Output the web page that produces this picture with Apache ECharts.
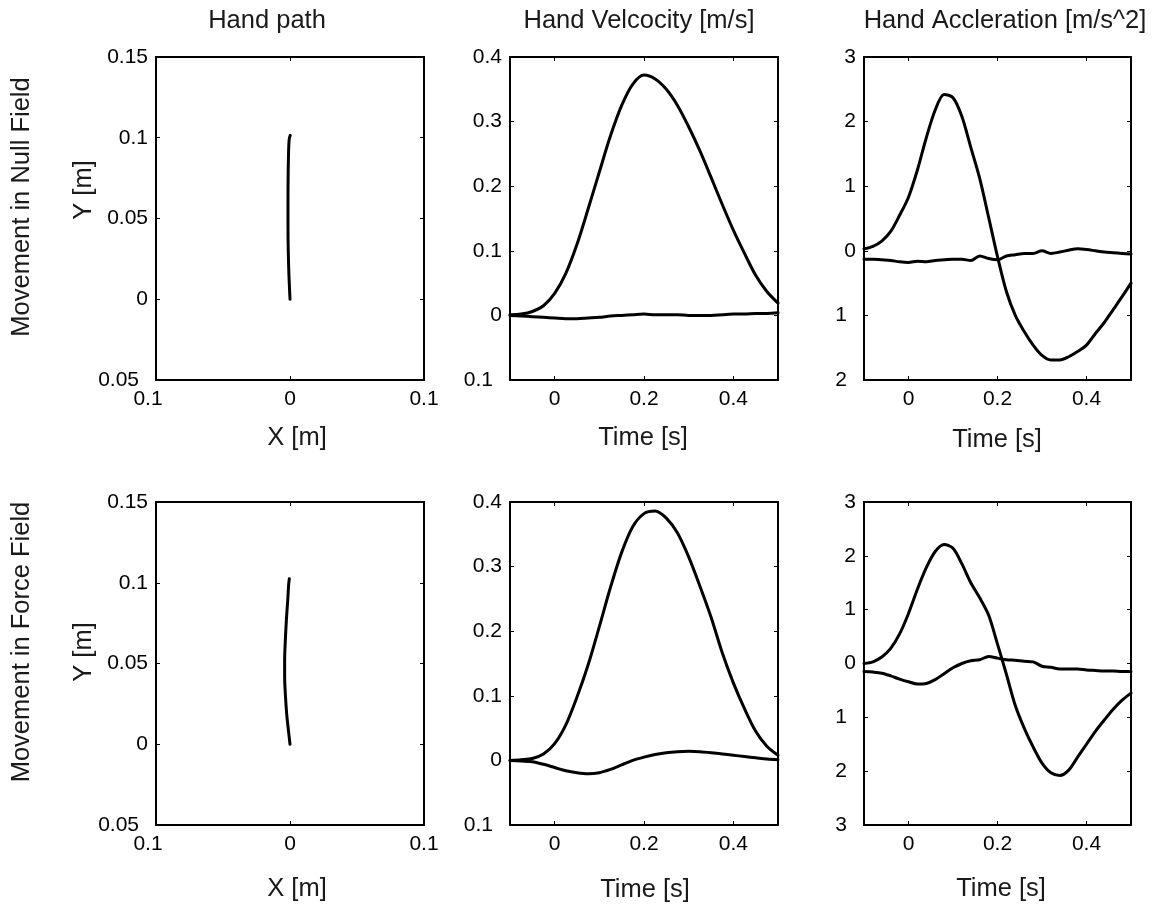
<!DOCTYPE html>
<html>
<head>
<meta charset="utf-8">
<script src="https://cdn.jsdelivr.net/npm/echarts@6/dist/echarts.min.js"></script>
<style>
  html, body { margin: 0; padding: 0; background: #fff; }
  #chart { width: 1166px; height: 906px; }
</style>
</head>
<body>
<div id="chart"></div>
<script>
// ---- Text ----
const columnTitles = ['Hand path', 'Hand Velcocity [m/s]', 'Hand Accleration [m/s^2]'];
const rowTitles = ['Movement in Null Field', 'Movement in Force Field'];
const pathXName = 'X [m]';
const pathYName = 'Y [m]';
const timeName = 'Time [s]';

// ---- Tick values ----
const pathXTicks = [-0.1, 0, 0.1];
const pathYTicks = [-0.05, 0, 0.05, 0.1, 0.15];
const timeRange = [-0.1, 0.5];
const timeTicks = [0, 0.2, 0.4];
const velTicks = [-0.1, 0, 0.1, 0.2, 0.3, 0.4];
const accNullTicks = [-2, -1, 0, 1, 2, 3];
const accForceTicks = [-3, -2, -1, 0, 1, 2, 3];

// ---- Hand paths (x, y in metres) ----
const nullPathX = [0, -0.0008, -0.0013, -0.0015, -0.0015, -0.0014, -0.0011, -0.0006, 0.0002];
const nullPathY = [0, 0.015, 0.03, 0.045, 0.06, 0.075, 0.09, 0.099, 0.1015];
const forcePathX = [0, -0.0015, -0.0025, -0.0035, -0.004, -0.004, -0.0035, -0.0027, -0.0017, -0.001, -0.0005];
const forcePathY = [0, 0.011, 0.019, 0.0315, 0.042, 0.052, 0.064, 0.077, 0.089, 0.099, 0.1025];

// ---- Hand velocity [m/s] ----
const velTime = [-0.1, -0.075, -0.05, -0.025, 0, 0.025, 0.05, 0.075, 0.1, 0.125, 0.15, 0.175, 0.2,
  0.225, 0.25, 0.275, 0.3, 0.325, 0.35, 0.375, 0.4, 0.425, 0.45, 0.475, 0.5];
const nullVelY = [0.001, 0.002, 0.006, 0.015, 0.034, 0.065, 0.11, 0.165, 0.222, 0.278, 0.325, 0.358, 0.372,
  0.366, 0.35, 0.325, 0.292, 0.255, 0.214, 0.172, 0.132, 0.096, 0.062, 0.037, 0.019];
const nullVelX = [0, -0.001, -0.002, -0.003, -0.004, -0.005, -0.005, -0.004, -0.003, -0.001, 0, 0.001, 0.002,
  0.001, 0.001, 0.001, 0, 0, 0, 0.001, 0.002, 0.002, 0.003, 0.003, 0.004];
const forceVelY = [0, 0.001, 0.003, 0.01, 0.026, 0.055, 0.098, 0.148, 0.207, 0.268, 0.322, 0.362, 0.382,
  0.386, 0.375, 0.352, 0.315, 0.27, 0.222, 0.167, 0.12, 0.08, 0.045, 0.022, 0.008];
const forceVelX = [0, -0.001, -0.002, -0.006, -0.011, -0.016, -0.019, -0.0205, -0.019, -0.014, -0.007, 0, 0.005,
  0.009, 0.012, 0.0135, 0.014, 0.0135, 0.012, 0.01, 0.008, 0.006, 0.004, 0.002, 0.001];

// ---- Hand acceleration [m/s^2] ----
const accTime = [-0.1, -0.08, -0.06, -0.04, -0.02, 0, 0.02, 0.04, 0.06, 0.08, 0.1, 0.12, 0.14, 0.16, 0.18, 0.2,
  0.22, 0.24, 0.26, 0.28, 0.3, 0.32, 0.34, 0.36, 0.38, 0.4, 0.42, 0.44, 0.46, 0.48, 0.5];
const nullAccY = [0.03, 0.07, 0.15, 0.3, 0.55, 0.83, 1.25, 1.75, 2.18, 2.42, 2.37, 2.08, 1.6, 1.12, 0.52, -0.09,
  -0.63, -1.0, -1.25, -1.46, -1.62, -1.69, -1.69, -1.64, -1.56, -1.46, -1.28, -1.11, -0.91, -0.71, -0.5];
const nullAccX = [-0.13, -0.13, -0.14, -0.15, -0.17, -0.18, -0.16, -0.17, -0.15, -0.14, -0.13, -0.13, -0.15, -0.08, -0.12, -0.14,
  -0.08, -0.06, -0.04, -0.04, 0.0, -0.04, -0.02, 0.01, 0.03, 0.02, 0.0, -0.02, -0.03, -0.04, -0.05];
const forceAccY = [0.0, 0.03, 0.12, 0.28, 0.55, 0.93, 1.38, 1.78, 2.08, 2.21, 2.14, 1.85, 1.5, 1.22, 0.9, 0.36,
  -0.2, -0.78, -1.2, -1.55, -1.85, -2.03, -2.08, -1.98, -1.74, -1.5, -1.26, -1.05, -0.85, -0.68, -0.55];
const forceAccX = [-0.15, -0.16, -0.18, -0.23, -0.29, -0.34, -0.38, -0.37, -0.3, -0.19, -0.08, 0.0, 0.05, 0.07, 0.13, 0.1,
  0.07, 0.06, 0.04, 0.03, -0.05, -0.07, -0.1, -0.1, -0.1, -0.12, -0.13, -0.14, -0.14, -0.15, -0.15];

// ---- Layout ----
const FONT = "'Liberation Sans', Arial, Helvetica, sans-serif";
const TICK_FONT = 21;
const TEXT_FONT = 25.5;
const colLeft = [156, 510, 864];
const colWidth = [268, 268, 267];
const rowTop = [57, 502];
const rowHeight = 323;

const zip = (xs, ys) => xs.map((x, i) => [x, ys[i]]);

// Tick labels are printed as magnitudes; negative ones keep the width of the dropped sign.
function tickText(v) {
  const s = String(parseFloat(Math.abs(v).toFixed(4)));
  return v < -1e-9 ? '{neg|' + s + '}' : s;
}

function axisPair(dim, gridIndex, min, max, ticks, negPad) {
  const labelRich = {
    neg: { fontSize: TICK_FONT, fontFamily: FONT, color: '#000', padding: [0, negPad, 0, 0] }
  };
  const common = {
    type: 'value', gridIndex, min, max, scale: true,
    splitLine: { show: false },
    axisLine: { show: true, onZero: false, lineStyle: { color: '#000', width: 2 } },
    axisTick: { show: true, inside: true, length: 4, lineStyle: { color: '#000', width: 1 }, customValues: ticks }
  };
  const main = Object.assign({}, common, {
    position: dim === 'x' ? 'bottom' : 'left',
    axisLabel: {
      show: true, customValues: ticks, formatter: tickText, rich: labelRich,
      fontSize: TICK_FONT, fontFamily: FONT, color: '#000',
      margin: dim === 'x' ? 9 : 8
    }
  });
  const mirror = Object.assign({}, common, {
    position: dim === 'x' ? 'top' : 'right',
    axisLabel: { show: false }
  });
  return [main, mirror];
}

const panels = [
  { row: 0, col: 0, x: [-0.1, 0.1, pathXTicks], y: [-0.05, 0.15, pathYTicks], lines: [zip(nullPathX, nullPathY)] },
  { row: 0, col: 1, x: [timeRange[0], timeRange[1], timeTicks], y: [-0.1, 0.4, velTicks], lines: [zip(velTime, nullVelY), zip(velTime, nullVelX)] },
  { row: 0, col: 2, x: [timeRange[0], timeRange[1], timeTicks], y: [-2, 3, accNullTicks], lines: [zip(accTime, nullAccY), zip(accTime, nullAccX)] },
  { row: 1, col: 0, x: [-0.1, 0.1, pathXTicks], y: [-0.05, 0.15, pathYTicks], lines: [zip(forcePathX, forcePathY)] },
  { row: 1, col: 1, x: [timeRange[0], timeRange[1], timeTicks], y: [-0.1, 0.4, velTicks], lines: [zip(velTime, forceVelY), zip(velTime, forceVelX)] },
  { row: 1, col: 2, x: [timeRange[0], timeRange[1], timeTicks], y: [-3, 3, accForceTicks], lines: [zip(accTime, forceAccY), zip(accTime, forceAccX)] }
];

const grid = [], xAxis = [], yAxis = [], series = [];
panels.forEach((p, g) => {
  grid.push({ left: colLeft[p.col], top: rowTop[p.row], width: colWidth[p.col], height: rowHeight, containLabel: false });
  const xs = axisPair('x', g, p.x[0], p.x[1], p.x[2], 16);
  const ys = axisPair('y', g, p.y[0], p.y[1], p.y[2], 9);
  const xi = xAxis.length, yi = yAxis.length;
  xAxis.push(xs[0], xs[1]);
  yAxis.push(ys[0], ys[1]);
  p.lines.forEach(d => {
    series.push({
      type: 'line', xAxisIndex: xi, yAxisIndex: yi, data: d,
      showSymbol: false, symbol: 'none', smooth: 0.3, clip: true, silent: true,
      lineStyle: { color: '#000', width: 3, cap: 'round', join: 'round' }
    });
  });
});

// Titles, row labels and axis names
function label(text, x, y, rotate) {
  return {
    type: 'text', x, y, rotation: rotate ? Math.PI / 2 : 0, silent: true,
    style: { text, fill: '#1a1a1a', font: TEXT_FONT + 'px ' + FONT, align: 'center', verticalAlign: 'middle' }
  };
}
const titleX = [267, 639, 1005];
const graphic = [];
columnTitles.forEach((t, i) => graphic.push(label(t, titleX[i], 21, false)));
rowTitles.forEach((t, i) => graphic.push(label(t, 22, [207, 642][i], true)));
graphic.push(label(pathYName, 84, 190, true), label(pathYName, 84, 652, true));
graphic.push(label(pathXName, 297, 438, false), label(pathXName, 297, 889, false));
graphic.push(label(timeName, 643, 438, false), label(timeName, 645, 890, false));
graphic.push(label(timeName, 997, 440, false), label(timeName, 1001, 889, false));

const chart = echarts.init(document.getElementById('chart'), null, { renderer: 'canvas' });
chart.setOption({
  animation: false,
  backgroundColor: '#fff',
  grid, xAxis, yAxis, series, graphic
});
</script>
</body>
</html>
